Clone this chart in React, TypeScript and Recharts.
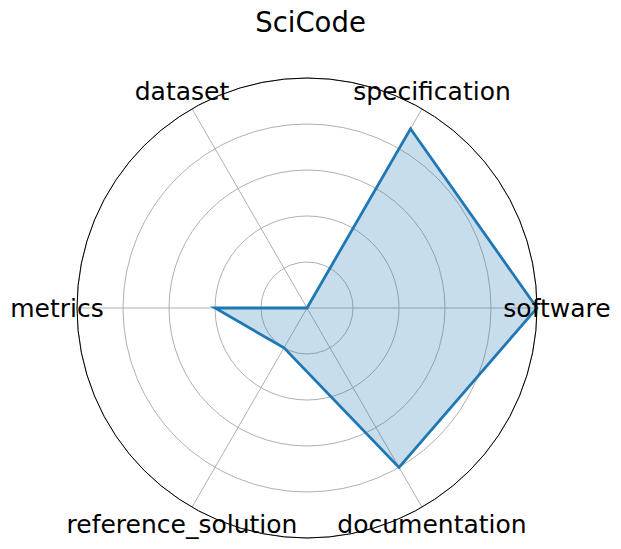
import { RadarChart, Radar, PolarGrid, PolarAngleAxis, PolarRadiusAxis } from 'recharts';

const CATEGORIES = ['software', 'specification', 'dataset', 'metrics', 'reference_solution', 'documentation'];
const SCORES = [1.0, 0.9, 0.0, 0.4, 0.2, 0.8];
const RINGS = [0.2, 0.4, 0.6, 0.8, 1.0];

const data = CATEGORIES.map((c, i) => ({ idx: i, category: c, score: SCORES[i] }));

const CX = 307;
const CY = 308;
const R = 230;
const FONT = '"DejaVu Sans", sans-serif';

function AngleTick(props: any) {
  // direction from recharts' own tick position, pushed out to the label radius
  const dx = props.x - CX;
  const dy = props.y - CY;
  const d = Math.hypot(dx, dy) || 1;
  const x = CX + (dx / d) * (R + 20);
  const y = CY + (dy / d) * (R + 20);
  return (
    <text x={x} y={y} textAnchor="middle" dominantBaseline="central" fontFamily={FONT} fontSize={25} fill="#000">
      {CATEGORIES[props.payload.value]}
    </text>
  );
}

export default function App() {
  return (
    <div style={{ position: 'absolute', left: 0, top: 0, width: 621, height: 549, background: '#fff' }}>
      <div style={{ position: 'absolute', left: 0, top: 6, width: 621, textAlign: 'center', fontFamily: FONT, fontSize: 27.5, color: '#000' }}>
        SciCode
      </div>
      <RadarChart width={621} height={549} data={data} cx={CX} cy={CY} outerRadius={R} startAngle={0} endAngle={360} margin={{ top: 0, right: 0, bottom: 0, left: 0 }}>
        <PolarGrid gridType="circle" polarRadius={RINGS.map((v) => v * R)} stroke="#b0b0b0" strokeWidth={1} />
        <PolarRadiusAxis domain={[0, 1]} tick={false} axisLine={false} tickCount={6} />
        <PolarAngleAxis
          dataKey="idx"
          type="number"
          domain={[0, CATEGORIES.length]}
          ticks={CATEGORIES.map((_, i) => i)}
          axisLineType="circle"
          axisLine={{ stroke: '#000', strokeWidth: 1 }}
          tickLine={false}
          tick={<AngleTick />}
        />
        <Radar dataKey="score" stroke="#1f77b4" strokeWidth={2.8} fill="#1f77b4" fillOpacity={0.25} isAnimationActive={false} />
      </RadarChart>
    </div>
  );
}
